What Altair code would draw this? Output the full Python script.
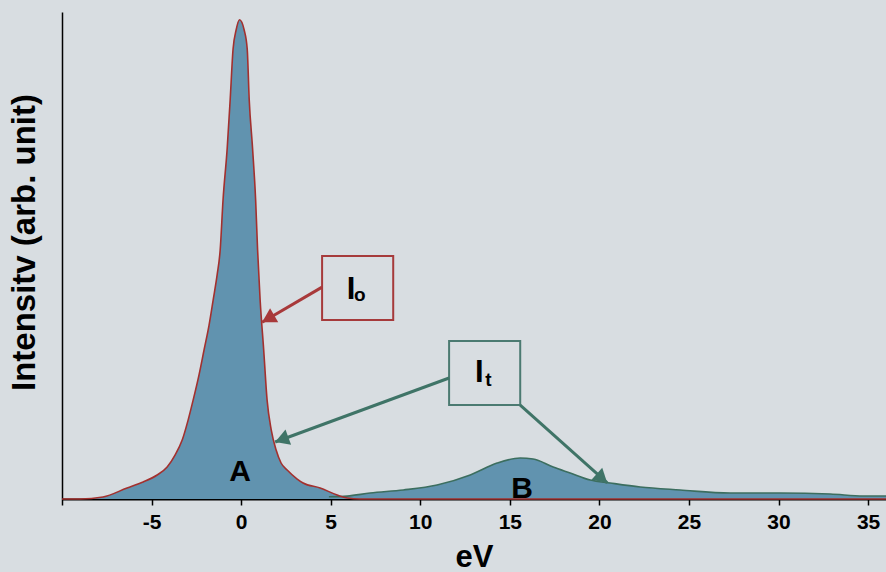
import math
import altair as alt
import pandas as pd

# ---- data ----
A_ev = [-10.0, -8.99, -7.71, -6.37, -5.47, -4.69, -4.13, -3.69, -3.29, -2.96, -2.68, -2.35,
        -2.07, -1.79, -1.56, -1.34, -1.17, -1.01, -0.78, -0.61, -0.45, -0.28, -0.09,
        0.17, 0.34, 0.45, 0.64, 0.81, 0.92, 1.06, 1.26, 1.45, 1.68, 1.95, 2.23, 2.57,
        3.13, 3.46, 4.41, 5.36, 5.92, 6.64, 36.0]
A_int = [0.0, 0.0, 0.41, 2.26, 3.49, 4.93, 6.57, 9.03, 12.1, 16.2, 20.3, 25.5,
         30.6, 35.7, 40.9, 46.0, 51.1, 61.4, 71.9, 82.1, 92.4, 96.3, 98.4,
         96.3, 92.4, 82.1, 71.9, 61.4, 51.1, 40.9, 30.6, 20.3, 14.2, 10.1, 7.39, 5.95,
         4.1, 3.29, 2.26, 0.82, 0.21, 0.0, 0.0]

B_ev = [4.9, 5.92, 7.20, 9.05, 10.94, 12.79, 14.29, 15.58, 16.30, 17.42, 18.37, 19.49,
        20.60, 22.28, 24.51, 27.30, 30.10, 32.89, 34.73, 36.0]
B_int = [0.45, 0.6, 1.23, 1.85, 2.87, 4.93, 7.39, 8.42, 8.21, 6.57, 5.34, 3.9,
         3.29, 2.46, 1.85, 1.23, 1.23, 1.03, 0.62, 0.62]

tick_values = [-10, -5, 0, 5, 10, 15, 20, 25, 30, 35]

# annotation boxes: x1, x2, y1, y2, colour
box_x1 = [4.52, 11.61]
box_x2 = [8.49, 15.58]
box_y1 = [49.9, 32.44]
box_y2 = [36.76, 19.3]
box_col = ["#a63a3b", "#4b7a71"]

# arrows: start -> tip
arr_x1 = [4.52, 11.61, 15.58]
arr_y1 = [43.5, 24.85, 19.3]
arr_x2 = [1.17, 1.90, 20.44]
arr_y2 = [36.3, 11.7, 3.29]
arr_col = ["#a8393a", "#3f7467", "#3f7467"]

# big letters and subscripts
main_txt = ["I", "I"]
main_x = [6.14, 13.29]
main_y = [41.07, 24.02]
sub_txt = ["o", "t"]
sub_x = [6.62, 13.80]
sub_y = [40.66, 23.2]
peak_lbl = ["A", "B"]
peak_x = [-0.06, 15.69]
peak_y = [3.7, 0.2]

# ---- layout constants ----
W, H = 824, 487
XDOM = [-10, 36]
YDOM = [0, 100]
PXX = W / (XDOM[1] - XDOM[0])
PXY = H / (YDOM[1] - YDOM[0])

dfA = pd.DataFrame({"x": A_ev, "y": A_int})
dfB = pd.DataFrame({"x": B_ev, "y": B_int})
dfBox = pd.DataFrame({"x": box_x1, "x2": box_x2, "y": box_y1, "y2": box_y2, "c": box_col})

heads = []
for x1, y1, x2, y2, c in zip(arr_x1, arr_y1, arr_x2, arr_y2, arr_col):
    dx = (x2 - x1) * PXX
    dy = -(y2 - y1) * PXY
    ang = math.degrees(math.atan2(dx, -dy)) % 360
    L = math.hypot(dx, dy)
    back = 7.0
    hx = x2 - dx / L * back / PXX
    hy = y2 + dy / L * back / PXY
    heads.append({"x": hx, "y": hy, "a": ang, "c": c})
dfArr = pd.DataFrame({"x": arr_x1, "y": arr_y1, "x2": arr_x2, "y2": arr_y2, "c": arr_col})
dfHead = pd.DataFrame(heads)
dfMain = pd.DataFrame({"x": main_x, "y": main_y, "t": main_txt})
dfSub = pd.DataFrame({"x": sub_x, "y": sub_y, "t": sub_txt})
dfPeak = pd.DataFrame({"x": peak_x, "y": peak_y, "t": peak_lbl})

FONT = "Liberation Sans"

X = alt.X("x:Q", scale=alt.Scale(domain=XDOM, nice=False, zero=False),
          axis=alt.Axis(title="eV", values=tick_values,
                        labelExpr="datum.value == -10 ? '' : toString(datum.value)",
                        grid=False, domainColor="black", domainWidth=2,
                        tickColor="black", tickSize=6, tickWidth=1.5,
                        labelFont=FONT, labelFontSize=21, labelFontWeight="bold",
                        labelColor="black", labelPadding=6,
                        titleFont=FONT, titleFontSize=31, titleFontWeight="bold",
                        titleColor="black", titleBaseline="alphabetic", titleY=67))
Y = alt.Y("y:Q", scale=alt.Scale(domain=YDOM, nice=False),
          axis=alt.Axis(title="Intensitv (arb. unit)", grid=False, ticks=False, labels=False,
                        domainColor="black", domainWidth=1.5,
                        titleFont=FONT, titleFontSize=33, titleFontWeight="bold",
                        titleColor="black", titleX=-38, titleY=230,
                        titleBaseline="middle"))

FILL = "#6193af"

areaA = alt.Chart(dfA).mark_area(color=FILL, opacity=1, interpolate="monotone").encode(x=X, y=Y)
areaB = alt.Chart(dfB).mark_area(color=FILL, opacity=1, interpolate="monotone").encode(x="x:Q", y="y:Q")
lineB = alt.Chart(dfB).mark_line(color="#3c6e5f", strokeWidth=1.6, interpolate="monotone").encode(x="x:Q", y="y:Q")
lineA = alt.Chart(dfA).mark_line(color="#a3302e", strokeWidth=1.6, interpolate="monotone").encode(x="x:Q", y="y:Q")

boxes = alt.Chart(dfBox).mark_rect(fillOpacity=0, strokeWidth=2).encode(
    x="x:Q", x2="x2", y="y:Q", y2="y2", stroke=alt.Stroke("c:N", scale=None))
arrows = alt.Chart(dfArr).mark_rule(strokeWidth=3).encode(
    x="x:Q", x2="x2", y="y:Q", y2="y2", color=alt.Color("c:N", scale=None))
arrowheads = alt.Chart(dfHead).mark_point(shape="triangle-up", filled=True, size=260, opacity=1).encode(
    x="x:Q", y="y:Q", angle=alt.Angle("a:Q", scale=None), color=alt.Color("c:N", scale=None))

mainT = alt.Chart(dfMain).mark_text(font=FONT, fontSize=31, fontWeight="bold", color="black",
                                    align="center", baseline="alphabetic").encode(
    x="x:Q", y="y:Q", text="t:N")
subT = alt.Chart(dfSub).mark_text(font=FONT, fontSize=19, fontWeight="bold", color="black",
                                  align="center", baseline="alphabetic").encode(
    x="x:Q", y="y:Q", text="t:N")
peakT = alt.Chart(dfPeak).mark_text(font=FONT, fontSize=30, fontWeight="bold", color="black",
                                    align="center", baseline="alphabetic").encode(
    x="x:Q", y="y:Q", text="t:N")

chart = alt.layer(areaA, areaB, lineB, lineA, peakT, boxes, arrows, arrowheads, mainT, subT).properties(
    width=W, height=H,
    autosize=alt.AutoSizeParams(type="none"),
    padding={"left": 62, "top": 12, "right": 0, "bottom": 73},
    background="#d8dde1",
).configure_view(stroke=None)

chart.save("out.html", embed_options={"renderer": "svg", "actions": False})
